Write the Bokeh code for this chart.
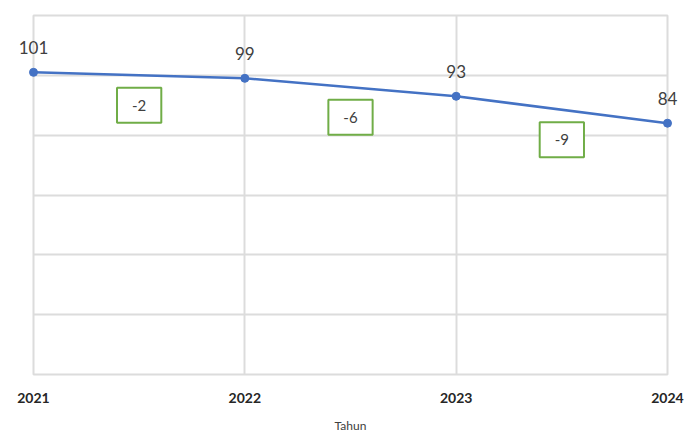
from bokeh.plotting import figure
from bokeh.models import ColumnDataSource, Range1d, FixedTicker, Label
from bokeh.core.properties import value
from bokeh.embed import file_html
from bokeh.resources import INLINE

years = [2021, 2022, 2023, 2024]
values = [101, 99, 93, 84]
tick_labels = ["2021", "2022", "2023", "2024"]
y_ticks = [0, 20, 40, 60, 80, 100, 120]
x_title = "Tahun"

p = figure(width=698, height=435, output_backend="svg", toolbar_location=None,
           x_range=Range1d(2021, 2024), y_range=Range1d(0, 120),
           min_border_left=33, min_border_right=31, min_border_top=15, min_border_bottom=60)
p.background_fill_color = "white"
p.border_fill_color = "white"
p.outline_line_color = "#dcdcdc"
p.outline_line_width = 2

p.yaxis.visible = False
p.yaxis.ticker = FixedTicker(ticks=y_ticks)
p.ygrid.ticker = FixedTicker(ticks=y_ticks)
p.xaxis.ticker = FixedTicker(ticks=years)
p.xaxis.major_label_overrides = {y: l for y, l in zip(years, tick_labels)}
p.xgrid.ticker = FixedTicker(ticks=years)
for g in (p.xgrid, p.ygrid):
    g.grid_line_color = "#dcdcdc"
    g.grid_line_width = 2

ax = p.xaxis[0]
ax.axis_line_color = None
ax.major_tick_line_color = None
ax.minor_tick_line_color = None
ax.major_tick_out = 0
ax.major_label_standoff = 18
ax.major_label_text_font = "Lato"
ax.major_label_text_font_style = "bold"
ax.major_label_text_font_size = "14px"
ax.major_label_text_color = "#262626"
ax.axis_label = x_title
ax.axis_label_standoff = 12
ax.axis_label_text_font = "Lato"
ax.axis_label_text_font_style = "normal"
ax.axis_label_text_font_size = "12px"
ax.axis_label_text_color = "#404040"

src = ColumnDataSource(dict(x=years, y=values, lab=[str(v) for v in values]))
p.line("x", "y", source=src, line_color="#4472C4", line_width=2.5)
pts = p.scatter("x", "y", source=src, size=8, fill_color="#4472C4", line_color="#4472C4")
pts.level = "overlay"
txt = p.text("x", "y", text="lab", source=src, text_align="center", text_baseline="middle",
             y_offset=-25, text_font=value("Lato"), text_font_size="17px", text_color="#404040")
txt.level = "overlay"

for i in range(len(years) - 1):
    d = values[i + 1] - values[i]
    mx = (years[i] + years[i + 1]) / 2
    my = (values[i] + values[i + 1]) / 2 - 10
    p.add_layout(Label(x=mx, y=my, text=str(d), text_align="center",
                       text_baseline="middle", text_font="Lato", text_font_size="15px",
                       text_color="#404040", border_line_color="#70AD47", border_line_width=2,
                       background_fill_color="white",
                       padding=dict(top=12, right=15, bottom=12, left=15)))

open("out.html", "w").write(file_html(p, INLINE))
